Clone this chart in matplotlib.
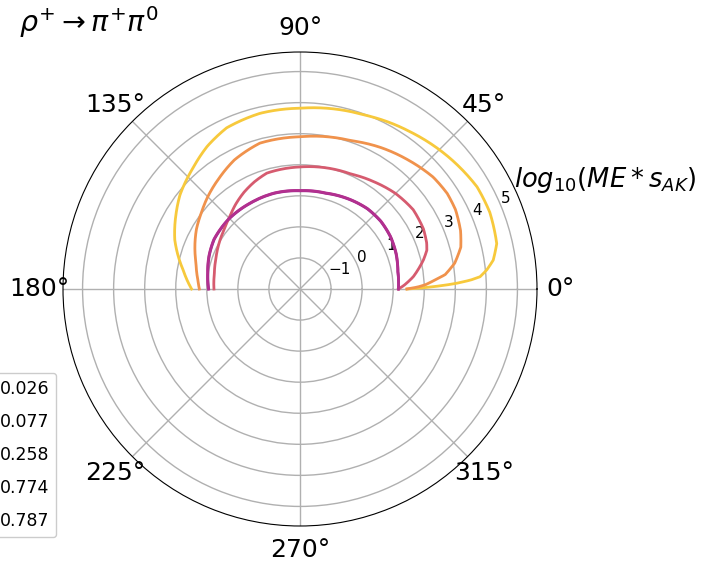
import numpy as np
import matplotlib
matplotlib.use('Agg')
import matplotlib.pyplot as plt

# angles (deg) and log10(ME*s_AK), one set per curve
th_y = [0, 0.5, 1, 1.6, 2.1, 3, 3.9, 5.8, 8.5, 13, 22, 30, 41.5, 55, 70, 90, 102.8, 114.5, 123, 131.5, 141.9, 148.4, 158.6, 170.8, 180]
r_y = [1.45, 1.9, 2.3, 2.73, 3.05, 3.5, 3.81, 4.04, 4.29, 4.50, 4.59, 4.58, 4.4, 4.18, 3.97, 3.82, 3.80, 3.70, 3.48, 3.2, 2.91, 2.68, 2.33, 1.81, 1.49]

th_o = [0, 1, 2, 3.2, 5.7, 9.5, 14.6, 20, 27, 33, 40, 50, 60, 71, 90, 105.4, 117, 126, 135, 142, 150, 158, 166, 175, 180]
r_o = [1.44, 1.8, 2.05, 2.25, 2.7, 3.05, 3.35, 3.5, 3.62, 3.65, 3.6, 3.42, 3.25, 3.05, 2.9, 2.87, 2.66, 2.42, 2.2, 2.02, 1.85, 1.65, 1.45, 1.3, 1.24]

th_r = [0, 2, 6.2, 13.2, 17, 20, 26, 35, 45, 55, 66, 90, 106, 113, 120, 127, 134, 142, 150, 160, 170, 180]
r_r = [1.17, 1.35, 1.67, 2.08, 2.27, 2.34, 2.42, 2.45, 2.35, 2.2, 2.05, 1.93, 1.88, 1.75, 1.6, 1.43, 1.25, 1.1, 1.0, 0.88, 0.8, 0.77]

th_m = [0, 10, 20, 30, 40, 50, 60, 75, 90, 105, 120, 135, 150, 160, 170, 180]
r_m = [1.17, 1.2, 1.3, 1.37, 1.4, 1.38, 1.31, 1.2, 1.17, 1.2, 1.2, 1.22, 1.2, 1.12, 1.02, 0.95]
r_m2 = [1.17, 1.2, 1.29, 1.36, 1.39, 1.37, 1.3, 1.19, 1.16, 1.19, 1.19, 1.21, 1.19, 1.11, 1.01, 0.94]

labels = ['0.026', '0.077', '0.258', '0.774', '0.787']
colors = ['#f7c93c', '#f0924c', '#d65b6f', '#b2308f', '#a0288f']
series = [(th_y, r_y), (th_o, r_o), (th_r, r_r), (th_m, r_m), (th_m, r_m2)]

fig = plt.figure(figsize=(7.05, 5.62), dpi=100)
ax = fig.add_axes([63/705, 36/562, 474/705, 474/562], projection='polar')

lines = []
for (th, r), c, lab in zip(series, colors, labels):
    ln, = ax.plot(np.radians(th), r, color=c, lw=2, label=lab)
    # let the polar transform bend each segment instead of drawing chords
    ln.get_path()._interpolation_steps = 40
    lines.append(ln)
lines[4].set_zorder(1.9)

ax.set_rlim(-2, 5.63)
ax.set_rticks([-1, 0, 1, 2, 3, 4, 5])
ax.tick_params(axis='y', labelsize=11)
ax.tick_params(axis='x', labelsize=18, pad=6.5)
ax.grid(True, color='#b0b0b0', lw=1)

fig.text(19/705, 1 - 22/562, r'$\rho^{+} \rightarrow \pi^{+}\pi^{0}$', fontsize=20.5, va='center', ha='left')
fig.text(514/705, 1 - 180/562, r'$log_{10}(ME*s_{AK})$', fontsize=18.5, va='center', ha='left')

leg = fig.legend(handles=lines, loc='upper right', bbox_to_anchor=(56/705, 1 - 373/562),
                 fontsize=12.5, labelspacing=0.87, framealpha=1, borderaxespad=0)

fig.savefig('out.png', dpi=100)
